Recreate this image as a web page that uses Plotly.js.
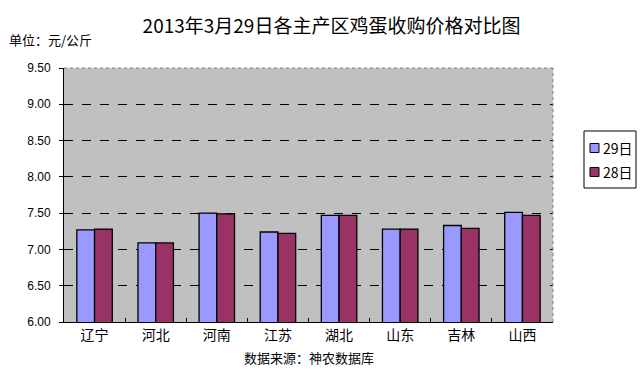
<!DOCTYPE html>
<html><head><meta charset="utf-8">
<script src="https://cdn.plot.ly/plotly-3.0.1.min.js"></script>
<style>body{margin:0;background:#fff}#c{width:640px;height:372px}</style>
</head><body><div id="c"></div>
<script>
const categories = ['辽宁','河北','河南','江苏','湖北','山东','吉林','山西'];
const seriesNames = ['29日', '28日'];
const series29 = [7.27, 7.09, 7.50, 7.24, 7.47, 7.28, 7.33, 7.51];
const series28 = [7.28, 7.09, 7.49, 7.22, 7.47, 7.28, 7.29, 7.47];
const yTicks = [6.0, 6.5, 7.0, 7.5, 8.0, 8.5, 9.0, 9.5];
const yTickText = yTicks.map(v => v.toFixed(2));
const colors = ['#9999ff', '#993366'];
const F = '"Noto Sans CJK SC", "DejaVu Sans", sans-serif';

const traces = [
  {type:'bar', name:seriesNames[0], x:categories, y:series29, marker:{color:colors[0], line:{color:'#000', width:1.3}}},
  {type:'bar', name:seriesNames[1], x:categories, y:series28, marker:{color:colors[1], line:{color:'#000', width:1.3}}}
];

// legend box geometry (paper coords)
const W = 489, H = 254, L = 64, T = 68;
const px = v => (v - L) / W, py = v => (T + H - v) / H;
const shapes = [
  {type:'line', xref:'paper', yref:'paper', x0:0, x1:1, y0:1, y1:1, line:{color:'#808080', width:1, dash:'dot'}},
  {type:'line', xref:'paper', yref:'paper', x0:1, x1:1, y0:0, y1:1, line:{color:'#808080', width:1, dash:'dot'}},
  {type:'rect', xref:'paper', yref:'paper', x0:px(584), x1:px(636), y0:py(131), y1:py(188), line:{color:'#000', width:1}, fillcolor:'#fff'}
];
const annotations = [
  {text:'单位：元/公斤', xref:'paper', yref:'paper', x:px(7), xanchor:'left', y:py(40), yanchor:'middle', showarrow:false, font:{family:F, size:13}},
  {text:'数据来源：神农数据库', xref:'paper', yref:'paper', x:px(309), xanchor:'center', y:py(357), yanchor:'middle', showarrow:false, font:{family:F, size:13}}
];
seriesNames.forEach((n, i) => {
  const cy = 148 + i * 24;
  shapes.push({type:'rect', xref:'paper', yref:'paper', x0:px(590), x1:px(599), y0:py(cy-4.5), y1:py(cy+4.5), line:{color:'#000', width:1}, fillcolor:colors[i]});
  annotations.push({text:n, xref:'paper', yref:'paper', x:px(601), xanchor:'left', y:py(cy), yanchor:'middle', showarrow:false, font:{family:F, size:14}});
});

const layout = {
  width:640, height:372,
  margin:{l:L, r:640-L-W, t:T, b:372-T-H},
  paper_bgcolor:'#fff', plot_bgcolor:'#c0c0c0',
  font:{family:F, size:12, color:'#000'},
  title:{text:'2013年3月29日各主产区鸡蛋收购价格对比图', x:0.518, xanchor:'center', y:0.93, yanchor:'middle', font:{family:F, size:19, color:'#000'}},
  barmode:'group', bargap:0.42, bargroupgap:0,
  showlegend:false,
  xaxis:{type:'category', showgrid:false, showline:true, linecolor:'#000', linewidth:1, ticks:'inside', tickson:'boundaries', ticklen:4, tickcolor:'#000', tickfont:{family:F, size:14}, zeroline:false},
  yaxis:{range:[6, 9.5], tickvals:yTicks, ticktext:yTickText, showline:true, linecolor:'#000', linewidth:1, ticks:'outside', ticklen:4, tickcolor:'#000', ticklabelstandoff:6, gridcolor:'#000', griddash:'dash', gridwidth:1, zeroline:false, tickfont:{family:'"Liberation Sans", Arial, sans-serif', size:12}},
  shapes, annotations
};
Plotly.newPlot('c', traces, layout, {displayModeBar:false});
</script></body></html>
